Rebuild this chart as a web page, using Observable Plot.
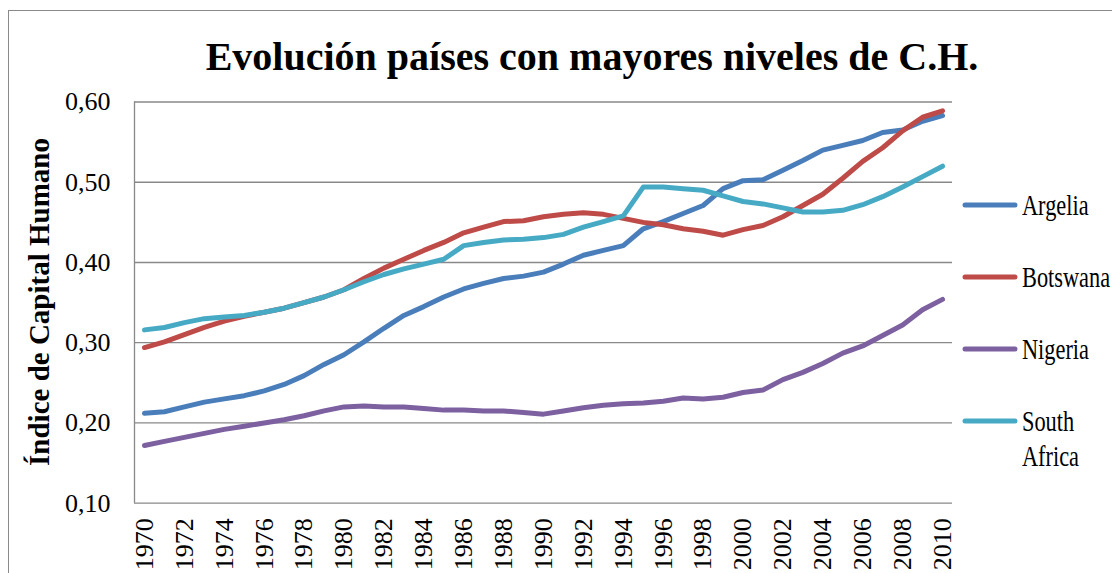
<!DOCTYPE html>
<html><head><meta charset="utf-8">
<script src="https://cdn.jsdelivr.net/npm/d3@7"></script>
<script src="https://cdn.jsdelivr.net/npm/@observablehq/plot@0.6"></script>
<style>
html,body{margin:0;padding:0;background:#fff;overflow:hidden;}
#wrap{position:relative;width:1112px;height:573px;overflow:hidden;background:#fff;}
#border{position:absolute;left:8px;top:10px;width:1300px;height:800px;border:1.5px solid #8a8a8a;box-sizing:border-box;}
#wrap svg{position:absolute;left:0;top:0;}
</style></head><body><div id="wrap"><div id="border"></div></div>
<script>
const title = "Evolución países con mayores niveles de C.H.";
const yTitle = "Índice de Capital Humano";
const years = d3.range(1970, 2011);
const countries = ["Argelia", "Botswana", "Nigeria", "South Africa"];
const colors = ["#4A7EBB", "#BE4B48", "#7D60A0", "#46AAC5"];
const yTicks = [0.1, 0.2, 0.3, 0.4, 0.5, 0.6];
const xTicks = years.filter(y => y % 2 === 0);

const argelia = [0.212,0.214,0.220,0.226,0.230,0.234,0.240,0.248,0.259,0.273,
  0.285,0.301,0.318,0.334,0.345,0.357,0.367,0.374,0.380,0.383,
  0.388,0.398,0.409,0.415,0.421,0.442,0.451,0.461,0.471,0.492,
  0.502,0.503,0.515,0.527,0.540,0.546,0.552,0.562,0.565,0.576,0.583];
const botswana = [0.294,0.301,0.310,0.319,0.327,0.333,0.338,0.343,0.350,0.357,
  0.366,0.380,0.393,0.404,0.415,0.425,0.437,0.444,0.451,0.452,
  0.457,0.460,0.462,0.460,0.455,0.450,0.447,0.442,0.439,0.434,
  0.441,0.446,0.457,0.471,0.485,0.505,0.526,0.543,0.564,0.581,0.589];
const nigeria = [0.172,0.177,0.182,0.187,0.192,0.196,0.200,0.204,0.209,0.215,
  0.220,0.221,0.220,0.220,0.218,0.216,0.216,0.215,0.215,0.213,
  0.211,0.215,0.219,0.222,0.224,0.225,0.227,0.231,0.230,0.232,
  0.238,0.241,0.254,0.263,0.274,0.287,0.296,0.309,0.322,0.341,0.354];
const southAfrica = [0.316,0.319,0.325,0.330,0.332,0.334,0.338,0.343,0.350,0.357,
  0.366,0.376,0.385,0.392,0.398,0.404,0.421,0.425,0.428,0.429,
  0.431,0.435,0.444,0.451,0.458,0.494,0.494,0.492,0.490,0.483,
  0.476,0.473,0.468,0.463,0.463,0.465,0.472,0.482,0.494,0.507,0.520];

const seriesValues = [argelia, botswana, nigeria, southAfrica];
const data = countries.flatMap((c, i) => years.map((yr, j) => ({country: c, year: yr, value: seriesValues[i][j]})));
const xDomain = [years[0] - 0.5, years[years.length - 1] + 0.5];
const fmt = d => d.toFixed(2).replace(".", ",");
const grid = "#898989";

const chart = Plot.plot({
  width: 1112, height: 573,
  marginLeft: 134, marginRight: 160, marginTop: 101.5, marginBottom: 70.3,
  style: {fontFamily: "'Liberation Serif', 'Times New Roman', serif", fontSize: "26px", color: "#000", background: "transparent", overflow: "visible"},
  x: {domain: xDomain},
  y: {domain: [0.1, 0.6]},
  color: {domain: countries, range: colors},
  marks: [
    Plot.gridY(yTicks, {stroke: grid, strokeOpacity: 1, strokeWidth: 1.3}),
    Plot.ruleX([xDomain[0]], {stroke: grid, strokeWidth: 1.3}),
    Plot.axisY(yTicks, {tickSize: 0, tickPadding: 24, tickFormat: fmt, label: null}),
    Plot.axisX(xTicks, {tickSize: 0, tickPadding: 15, tickRotate: -90, tickFormat: d => String(d), label: null}),
    Plot.line(data, {x: "year", y: "value", z: "country", stroke: "country", strokeWidth: 5, strokeLinecap: "round", strokeLinejoin: "round"})
  ]
});

document.getElementById("wrap").appendChild(chart);
const svg = d3.select(chart);
const serif = "'Liberation Serif', 'Times New Roman', serif";

svg.append("text")
  .attr("x", 592).attr("y", 70)
  .attr("text-anchor", "middle")
  .attr("font-family", serif).attr("font-weight", "bold").attr("font-size", 40)
  .attr("fill", "#000")
  .text(title);

svg.append("text")
  .attr("transform", "translate(39,302) rotate(-90)")
  .attr("text-anchor", "middle").attr("dominant-baseline", "central")
  .attr("font-family", serif).attr("font-weight", "bold").attr("font-size", 29)
  .attr("fill", "#000")
  .text(yTitle);

const legendY = [205, 277, 349, 421];
const leg = svg.append("g").attr("text-anchor", "start");
countries.forEach((c, i) => {
  leg.append("line")
    .attr("x1", 965).attr("x2", 1015)
    .attr("y1", legendY[i]).attr("y2", legendY[i])
    .attr("stroke", colors[i]).attr("stroke-width", 5).attr("stroke-linecap", "round");
  const lines = c === "South Africa" ? ["South", "Africa"] : [c];
  lines.forEach((t, k) => {
    leg.append("text")
      .attr("transform", `translate(1022,${legendY[i] + 10 + k * 35}) scale(0.77,1)`)
      .attr("text-anchor", "start")
      .attr("font-family", serif).attr("font-size", 29).attr("fill", "#000")
      .text(t);
  });
});
</script></body></html>
